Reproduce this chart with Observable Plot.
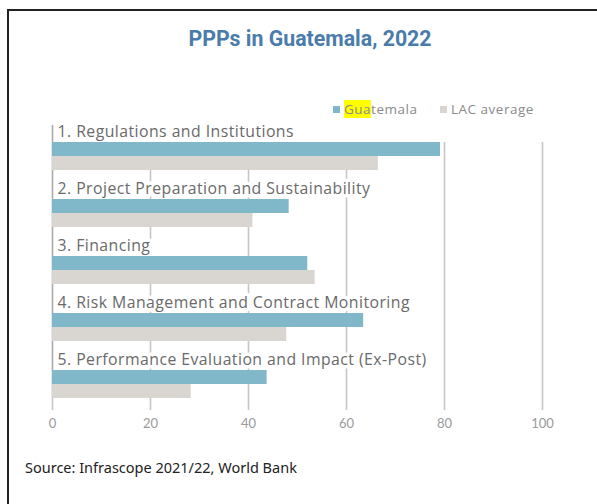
<!DOCTYPE html>
<html>
<head>
<meta charset="utf-8">
<script src="https://cdn.jsdelivr.net/npm/d3@7"></script>
<script src="https://cdn.jsdelivr.net/npm/@observablehq/plot@0.6"></script>
<style>
  html, body { margin: 0; padding: 0; background: #fff; width: 597px; height: 504px; overflow: hidden; }
  #frame { position: absolute; left: 7px; top: 9px; width: 700px; height: 600px;
           border-top: 2px solid #222; border-left: 2px solid #222; }
  #title { position: absolute; left: 0; top: 26px; width: 620px; text-align: center;
           font-family: Roboto, sans-serif; font-weight: bold; font-size: 21.3px; color: #4a7cab; }
  .leg { position: absolute; top: 101px; font-family: "Open Sans", sans-serif; font-size: 13.5px; color: #8a8a8a;
         letter-spacing: 0.5px; display: flex; align-items: center; white-space: nowrap; line-height: 17px; }
  .leg .sw { display: inline-block; width: 7px; height: 7px; margin-right: 4px; }
  .leg .hl { background: #ffff00; }
  #chart { position: absolute; left: 0; top: 115px; }
  #chart g[aria-label="text"] text { letter-spacing: 0.45px; }
  #source { position: absolute; left: 25px; top: 457px; font-family: "Noto Sans", sans-serif; font-size: 14.5px; color: #222; }
</style>
</head>
<body>
<div id="frame"></div>
<div id="title">PPPs in Guatemala, 2022</div>
<div id="leg0" class="leg" style="left:333px"></div>
<div id="leg1" class="leg" style="left:440px"></div>
<div id="chart"></div>
<div id="source">Source: Infrascope 2021/22, World Bank</div>
<script>
const categories = [
  "1. Regulations and Institutions",
  "2. Project Preparation and Sustainability",
  "3. Financing",
  "4. Risk Management and Contract Monitoring",
  "5. Performance Evaluation and Impact (Ex-Post)"
];
const guatemala = [79.2, 48.3, 52.1, 63.5, 43.8];
const lacAverage = [66.5, 40.9, 53.6, 47.8, 28.3];
const seriesNames = ["Guatemala", "LAC average"];
const seriesColors = ["#80b8ca", "#d9d6d2"];
const xTicks = [0, 20, 40, 60, 80, 100];

const rows = categories.map((c, i) => ({category: c, guatemala: guatemala[i], lac: lacAverage[i]}));

// legend
seriesNames.forEach((name, i) => {
  const item = document.getElementById("leg" + i);
  const sw = document.createElement("span");
  sw.className = "sw";
  sw.style.background = seriesColors[i];
  item.appendChild(sw);
  const label = document.createElement("span");
  if (i === 0) {
    label.innerHTML = '<span class="hl">' + name.slice(0, 3) + '</span>' + name.slice(3);
  } else {
    label.textContent = name;
  }
  item.appendChild(label);
});

const font = "Lato, sans-serif";
const labelFont = "'Open Sans', sans-serif";
const chart = Plot.plot({
  width: 597,
  height: 320,
  marginLeft: 52,
  marginRight: 55,
  marginTop: 27,
  marginBottom: 37,
  style: {fontFamily: font, background: "transparent", overflow: "visible"},
  x: {domain: [0, 100], axis: null},
  y: {domain: categories, axis: null, paddingInner: 29 / 57, paddingOuter: 0, round: false},
  marks: [
    Plot.ruleX(xTicks.filter(d => d > 0), {stroke: "#c6c6c6", strokeWidth: 1.6}),
    Plot.ruleX([0], {stroke: "#aaaaaa", strokeWidth: 1.6, insetTop: -17}),
    Plot.axisX({ticks: xTicks, tickSize: 12, tickPadding: 8, stroke: "#c6c6c6", strokeWidth: 1.6,
                fill: "#9a9a9a", fontSize: 13, fontFamily: font, tickFormat: d => String(d)}),
    Plot.text(rows, {x: 0, y: "category", text: "category", textAnchor: "start", dx: 5, dy: -25,
                     fill: "#6a6a6a", stroke: "white", strokeWidth: 7, paintOrder: "stroke",
                     fontSize: 15.8, fontFamily: labelFont}),
    Plot.barX(rows, {x: "guatemala", y: "category", fill: seriesColors[0], insetBottom: 14}),
    Plot.barX(rows, {x: "lac", y: "category", fill: seriesColors[1], insetTop: 14})
  ]
});
document.getElementById("chart").appendChild(chart);
</script>
</body>
</html>
